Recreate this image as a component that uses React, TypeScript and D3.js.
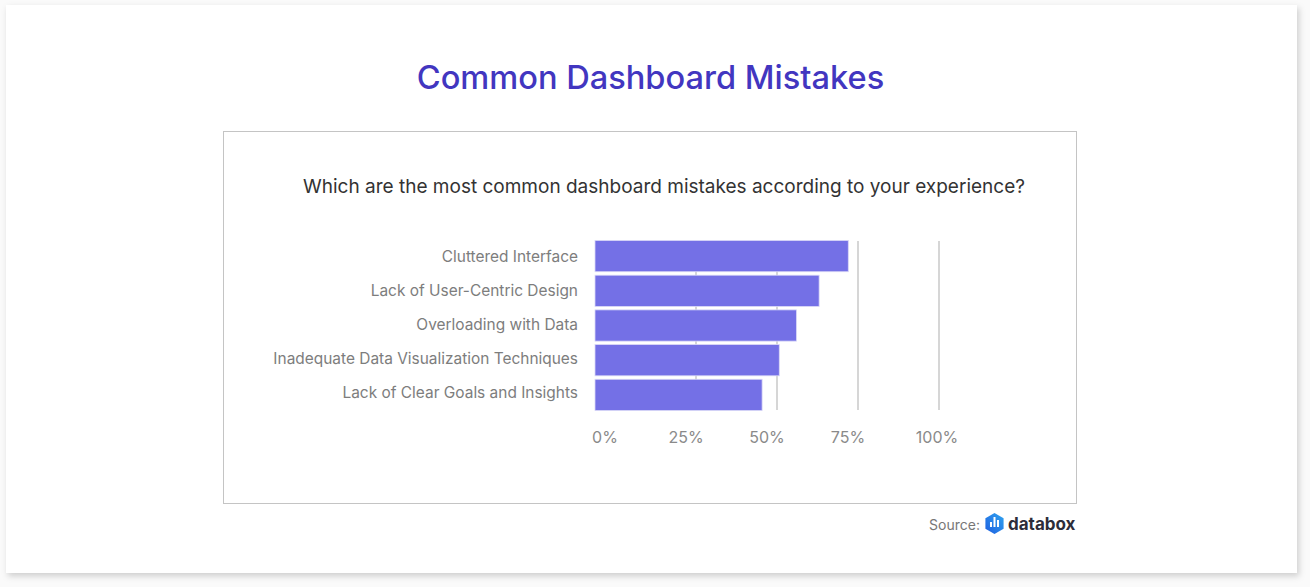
import React from "react";
import * as d3 from "d3";

const categories = [
  "Cluttered Interface",
  "Lack of User-Centric Design",
  "Overloading with Data",
  "Inadequate Data Visualization Techniques",
  "Lack of Clear Goals and Insights",
];
const values = [72, 63, 56, 50.7, 45.4];
const tickValues = [0, 25, 50, 75, 100];
const tickLabels = ["0%", "25%", "50%", "75%", "100%"];

const W = 1310;
const H = 587;
const FONT = "Inter, 'Noto Sans', sans-serif";

export default function App() {
  const x = d3.scaleLinear().domain([0, 100]).range([615, 939]);
  const y = d3.scaleBand<string>().domain(categories).range([240.5, 410.5]).paddingInner(0.1).paddingOuter(0.0);
  const yLabel = d3.scalePoint<string>().domain(categories).range([257, 392.5]);
  const barStart = 595;

  const hex = (cx: number, cy: number, r: number) => {
    const pts = d3.range(6).map((i) => {
      const a = (Math.PI / 3) * i - Math.PI / 2;
      return [cx + r * Math.cos(a), cy + r * Math.sin(a)] as [number, number];
    });
    return d3.line()(pts.concat([pts[0]])) as string;
  };

  return (
    <div style={{ position: "absolute", left: 0, top: 0 }}>
      <svg width={W} height={H} style={{ display: "block" }}>
        <defs>
          <filter id="sh" x="-5%" y="-5%" width="110%" height="115%">
            <feDropShadow dx="2" dy="3" stdDeviation="3" floodColor="#000" floodOpacity="0.18" />
          </filter>
          <linearGradient id="lg" x1="0" y1="1" x2="1" y2="0">
            <stop offset="0" stopColor="#1f5fe0" />
            <stop offset="1" stopColor="#2fa3ef" />
          </linearGradient>
        </defs>
        <rect x={0} y={0} width={W} height={H} fill="#fafafa" />
        <rect x={6} y={5} width={1291} height={568} fill="#fff" filter="url(#sh)" />
        <text x={650.5} y={89} textAnchor="middle" fontFamily={FONT} fontSize={32.6} fontWeight={500} fill="#4236c0">
          Common Dashboard Mistakes
        </text>
        <rect x={223.5} y={131.5} width={853} height={372} fill="#fff" stroke="#c4c4c4" strokeWidth={1} />
        <text x={664} y={193} textAnchor="middle" fontFamily={FONT} fontSize={19} fill="#333">
          Which are the most common dashboard mistakes according to your experience?
        </text>
        {tickValues.slice(1).map((t) => (
          <line key={t} x1={x(t)} x2={x(t)} y1={241} y2={410} stroke="#c8c8c8" strokeWidth={1.5} />
        ))}
        {categories.map((c, i) => (
          <g key={c}>
            <rect
              x={barStart}
              y={y(c)!}
              width={x(values[i]) - barStart}
              height={y.bandwidth()}
              fill="#7470e6"
              stroke="#d9d7f7"
              strokeWidth={0.8}
            />
            <text
              x={578}
              y={yLabel(c)!}
              dy="0.35em"
              textAnchor="end"
              fontFamily={FONT}
              fontSize={15.45}
              fill="#7d7d7d"
            >
              {c}
            </text>
          </g>
        ))}
        {tickValues.map((t, i) => (
          <text key={t} x={x(t) + (i === 4 ? -2 : -10)} y={443} textAnchor="middle" fontFamily={FONT} fontSize={16} fill="#8a8a8a">
            {tickLabels[i]}
          </text>
        ))}
        <text x={980} y={530} textAnchor="end" fontFamily={FONT} fontSize={14} fill="#777">
          Source:
        </text>
        <path d={hex(994.5, 523.5, 10.5)} fill="url(#lg)" />
        <rect x={990} y={522} width={2} height={5} fill="#fff" />
        <rect x={993.5} y={517} width={2} height={10} fill="#fff" />
        <rect x={997} y={520} width={2} height={7} fill="#fff" />
        <text x={1008} y={529.5} fontFamily={FONT} fontSize={17} fontWeight={700} fill="#2d2d3a">
          databox
        </text>
      </svg>
    </div>
  );
}
